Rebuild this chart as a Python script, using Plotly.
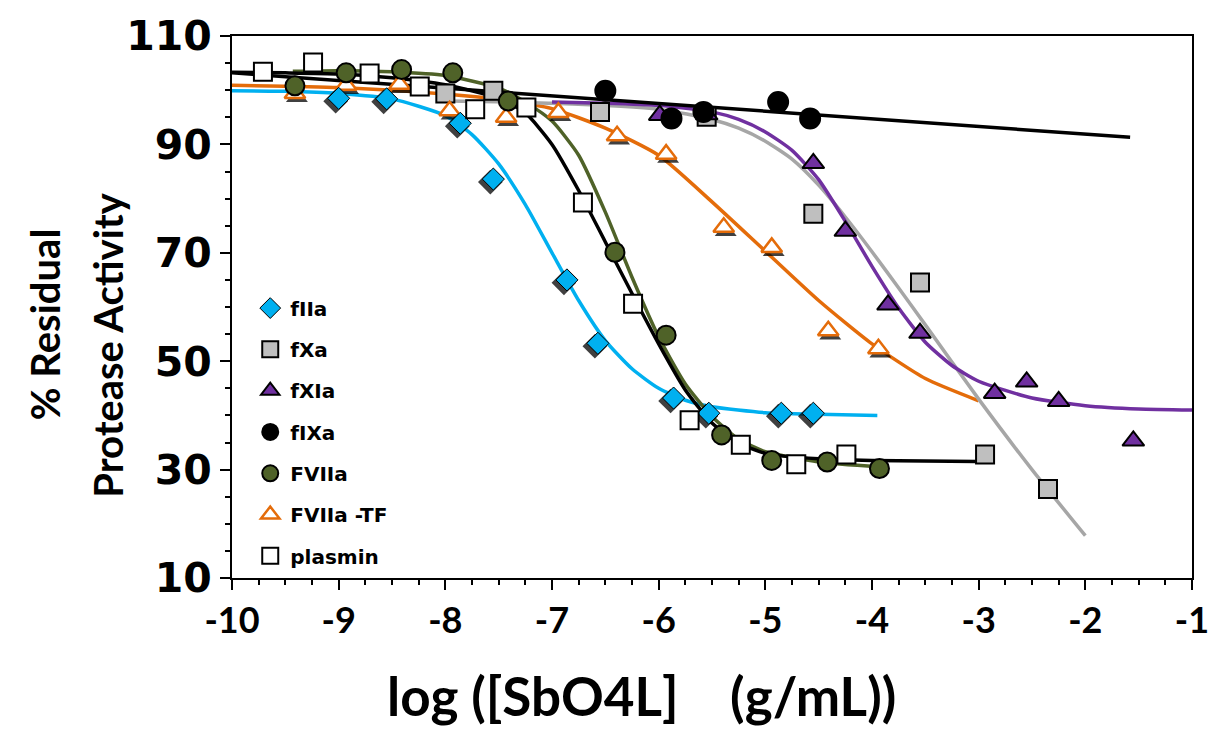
import plotly.graph_objects as go

# ---------------- data ----------------
x_tick_vals = [-10, -9, -8, -7, -6, -5, -4, -3, -2, -1]
x_tick_labels = ["-10", "-9", "-8", "-7", "-6", "-5", "-4", "-3", "-2", "-1"]
y_tick_vals = [10, 30, 50, 70, 90, 110]
y_tick_labels = ["10", "30", "50", "70", "90", "110"]

x_title = "log ([SbO4L]    (g/mL))"
y_title_lines = ["% Residual", "Protease Activity"]

# measured points
fIIa_x = [-9.0, -8.55, -7.86, -7.55, -6.86, -6.57, -5.86, -5.53, -4.85, -4.55]
fIIa_y = [98.5, 98.4, 93.9, 83.6, 65.0, 53.3, 43.2, 40.4, 40.4, 40.4]

fXa_x = [-8.0, -7.55, -6.55, -5.55, -4.55, -3.55, -2.94, -2.35]
fXa_y = [99.4, 99.9, 96.0, 95.1, 77.2, 64.5, 32.8, 26.4]

fXIa_x = [-5.99, -5.55, -4.55, -4.25, -3.85, -3.55, -2.85, -2.55, -2.25, -1.55]
fXIa_y = [95.4, 95.5, 86.5, 74.0, 60.4, 55.2, 44.1, 46.2, 42.6, 35.3]

fIXa_x = [-6.5, -5.88, -5.58, -4.88, -4.58]
fIXa_y = [99.9, 94.8, 96.0, 97.8, 94.8]

FVIIa_x = [-9.41, -8.93, -8.41, -7.93, -7.41, -6.41, -5.93, -5.41, -4.94, -4.42, -3.93]
FVIIa_y = [100.8, 103.2, 103.8, 103.2, 98.0, 70.1, 54.8, 36.4, 31.7, 31.4, 30.2]

FVIIaTF_x = [-9.41, -8.93, -8.43, -7.96, -7.43, -6.94, -6.39, -5.93, -5.39, -4.94, -4.41, -3.94]
FVIIaTF_y = [99.4, 100.9, 101.1, 96.2, 95.0, 95.9, 91.6, 88.2, 74.7, 71.0, 55.6, 52.3]

plasmin_x = [-9.71, -9.24, -8.71, -8.24, -7.72, -7.24, -6.71, -6.24, -5.71, -5.23, -4.71, -4.24]
plasmin_y = [103.4, 105.1, 103.1, 100.7, 96.5, 96.8, 79.3, 60.6, 39.1, 34.6, 31.0, 32.8]

# fitted curves
fIIa_fit_x = [-10, -9.5, -9, -8.5, -8, -7.75, -7.5, -7.25, -7, -6.75, -6.5, -6.25, -6, -5.75, -5.5, -5, -4.5, -3.95]
fIIa_fit_y = [99.9, 99.8, 99.4, 98.4, 95.3, 91.8, 86.4, 78.9, 70.0, 61.2, 53.8, 48.6, 45.0, 42.8, 41.6, 40.5, 40.2, 40.0]

fXa_fit_x = [-8, -7, -6, -5.5, -5.25, -5, -4.75, -4.5, -4.25, -4, -3.75, -3.5, -3, -2.5, -2]
fXa_fit_y = [98.0, 97.6, 96.5, 94.6, 93.0, 90.6, 87.3, 82.5, 76.6, 70.2, 63.5, 56.7, 43.0, 30.0, 17.8]

fXIa_fit_x = [-7, -6.5, -6, -5.5, -5.25, -5, -4.75, -4.5, -4.25, -4, -3.75, -3.5, -3.25, -3, -2.5, -2, -1.5, -1]
fXIa_fit_y = [97.8, 97.6, 97.2, 96.0, 94.6, 92.3, 88.9, 83.5, 75.8, 67.5, 59.8, 53.5, 49.2, 46.3, 43.2, 41.8, 41.2, 41.0]

fIXa_fit_x = [-10, -1.58]
fIXa_fit_y = [103.2, 91.3]

FVIIa_fit_x = [-9.43, -9, -8.5, -8, -7.5, -7.25, -7, -6.75, -6.5, -6.25, -6, -5.75, -5.5, -5.25, -5, -4.5, -3.93]
FVIIa_fit_y = [103.5, 103.6, 103.4, 102.7, 100.4, 97.8, 94.3, 88.0, 77.5, 65.5, 54.5, 45.8, 39.8, 35.6, 33.3, 31.4, 30.5]

FVIIaTF_fit_x = [-10, -9, -8, -7.5, -7, -6.5, -6, -5.5, -5, -4.5, -4, -3.5, -3]
FVIIaTF_fit_y = [100.9, 100.5, 99.3, 98.3, 96.6, 93.0, 88.0, 79.4, 70.3, 61.2, 53.2, 46.8, 42.7]

plasmin_fit_x = [-10, -9.5, -9, -8.5, -8, -7.5, -7.25, -7, -6.75, -6.5, -6.25, -6, -5.75, -5.5, -5.25, -5, -4.5, -4, -3.02]
plasmin_fit_y = [103.3, 103.2, 103.0, 102.3, 101.0, 98.5, 95.8, 90.0, 81.5, 72.0, 62.5, 53.2, 44.7, 38.6, 34.9, 33.0, 32.0, 31.7, 31.5]

# ---------------- styling ----------------
C_BLUE = "#00B0F0"
C_GRAY_FILL = "#BFBFBF"
C_GRAY_LINE = "#A6A6A6"
C_PURPLE = "#7030A0"
C_BLACK = "#000000"
C_OLIVE = "#4F6228"
C_ORANGE = "#E46C0A"
LW = 3.5
FONT = "Lato, 'Open Sans', sans-serif"
WIDE_FONT = "'DejaVu Sans', sans-serif"

# plot geometry (pixels) used for shadow offsets and title placement
PLOT_L, PLOT_R, PLOT_T, PLOT_B = 232, 1192, 25, 578
PX_X = 9.0 / (PLOT_R - PLOT_L)
PX_Y = 100.0 / (PLOT_B - PLOT_T)

fig = go.Figure()

def line(x, y, color):
    fig.add_trace(go.Scatter(x=x, y=y, mode="lines", line=dict(color=color, width=LW, shape="spline", smoothing=0.6),
                             showlegend=False, hoverinfo="skip"))

line(FVIIaTF_fit_x, FVIIaTF_fit_y, C_ORANGE)
line(fIIa_fit_x, fIIa_fit_y, C_BLUE)
line(fXa_fit_x, fXa_fit_y, C_GRAY_LINE)
line(fXIa_fit_x, fXIa_fit_y, C_PURPLE)
line(FVIIa_fit_x, FVIIa_fit_y, C_OLIVE)
line(plasmin_fit_x, plasmin_fit_y, C_BLACK)
fig.add_trace(go.Scatter(x=fIXa_fit_x, y=fIXa_fit_y, mode="lines", line=dict(color=C_BLACK, width=LW),
                         showlegend=False, hoverinfo="skip"))

def shadow(x, y, symbol, size, dx, dy):
    fig.add_trace(go.Scatter(x=[v + dx * PX_X for v in x], y=[v - dy * PX_Y for v in y], mode="markers",
                             marker=dict(symbol=symbol, size=size, color="rgba(0,0,0,0.75)", line=dict(width=0)),
                             showlegend=False, hoverinfo="skip"))

shadow(fIIa_x, fIIa_y, "diamond", 19, -3, 3)
shadow(FVIIaTF_x, FVIIaTF_y, "triangle-up", 19, 2, 4)

def pts(x, y, name, symbol, size, fill, edge, lw=2, rank=0):
    fig.add_trace(go.Scatter(x=x, y=y, mode="markers", name=name, legendrank=rank, legendgroup=name,
                             marker=dict(symbol=symbol, size=size, color=fill, line=dict(color=edge, width=lw))))

pts(fXa_x, fXa_y, "fXa", "square", 18, C_GRAY_FILL, C_BLACK, rank=2)
pts(fXIa_x, fXIa_y, "fXIa", "triangle-up", 19, C_PURPLE, C_BLACK, rank=3)
pts(FVIIaTF_x, FVIIaTF_y, "FVIIa -TF", "triangle-up", 18, "#FFFFFF", C_ORANGE, 2.5, rank=6)
pts(fIIa_x, fIIa_y, "fIIa", "diamond", 17, C_BLUE, C_BLACK, 1, rank=1)
pts(FVIIa_x, FVIIa_y, "FVIIa", "circle", 19, C_OLIVE, C_BLACK, rank=5)
pts(plasmin_x, plasmin_y, "plasmin", "square", 18, "#FFFFFF", C_BLACK, rank=7)
pts(fIXa_x, fIXa_y, "fIXa", "circle", 20, C_BLACK, C_BLACK, rank=4)

# empty trace to carry the overlay axes used for minor ticks
fig.add_trace(go.Scatter(x=[], y=[], xaxis="x2", yaxis="y2", showlegend=False, hoverinfo="skip"))

axis_common = dict(showline=True, linecolor="black", linewidth=2, mirror=True, showgrid=False, zeroline=False,
                   ticks="outside", tickcolor="black", tickwidth=2, ticklen=10, tickmode="array")
minor_common = dict(showline=False, showgrid=False, zeroline=False, showticklabels=False, tickmode="linear",
                    ticks="outside", tickcolor="black", tickwidth=2, ticklen=6)

fig.update_layout(
    width=1221, height=731,
    margin=dict(l=PLOT_L, r=1221 - PLOT_R, t=PLOT_T, b=731 - PLOT_B),
    paper_bgcolor="white", plot_bgcolor="white",
    xaxis=dict(range=[-10, -1], tickvals=x_tick_vals, ticktext=x_tick_labels,
               tickfont=dict(family=FONT, size=36, color="black", weight="bold"),
               **axis_common),
    yaxis=dict(range=[10, 110], tickvals=y_tick_vals, ticktext=y_tick_labels,
               tickfont=dict(family=WIDE_FONT, size=41, color="black", weight="bold"),
               **axis_common),
    xaxis2=dict(overlaying="x", side="bottom", range=[-10, -1], tick0=-10, dtick=0.25, **minor_common),
    yaxis2=dict(overlaying="y", side="left", range=[10, 110], tick0=10, dtick=5, **minor_common),
    legend=dict(x=0.019, y=0.534, xanchor="left", yanchor="top", bgcolor="rgba(0,0,0,0)",
                font=dict(family=WIDE_FONT, size=20, color="black", weight="bold"),
                tracegroupgap=12.3, itemsizing="trace"),
)

# x-axis title
fig.add_annotation(text=x_title, xref="paper", yref="paper",
                   x=(641 - PLOT_L) / (PLOT_R - PLOT_L), y=(PLOT_B - 698) / (PLOT_B - PLOT_T),
                   xanchor="center", yanchor="middle", showarrow=False,
                   font=dict(family=FONT, size=53, color="black", weight="bold"))

# two-line y-axis title
for txt, px, py in zip(y_title_lines, [45, 108], [320, 340]):
    fig.add_annotation(text=txt, xref="paper", yref="paper", x=(px - PLOT_L) / (PLOT_R - PLOT_L),
                       y=(PLOT_B - py) / (PLOT_B - PLOT_T),
                       xanchor="center", yanchor="middle", textangle=-90, showarrow=False,
                       font=dict(family=FONT, size=40, color="black", weight="bold"))

fig.write_html("out.html")
